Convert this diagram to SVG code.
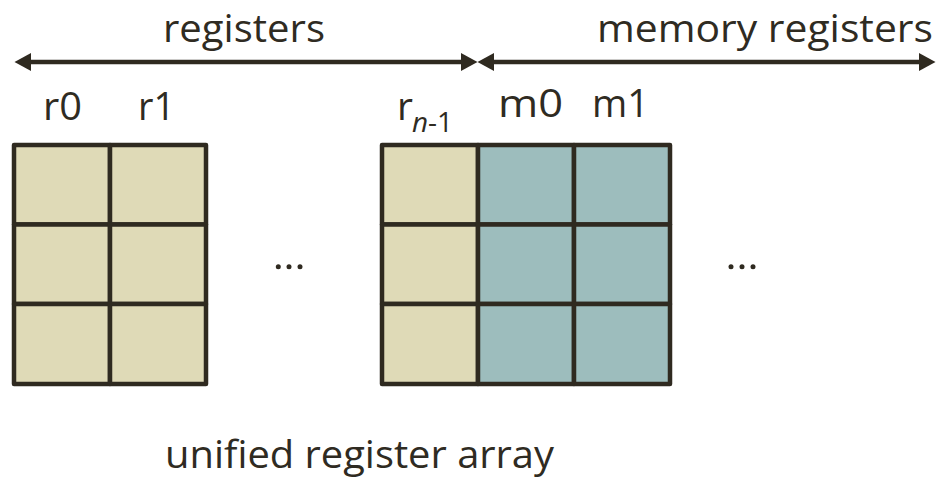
<svg xmlns="http://www.w3.org/2000/svg" width="936" height="479" viewBox="0 0 936 479">
  <defs>
    <style>
      .lbl { font-family: "Open Sans", "Liberation Sans", sans-serif; font-size: 39px; fill: #2f2b22; }
      .sub { font-family: "Open Sans", "Liberation Sans", sans-serif; font-size: 27px; fill: #2f2b22; }
      .reg { fill: #dfdab7; stroke: #2f2a20; stroke-width: 4.5; stroke-linejoin: round; }
      .mem { fill: #9dbdbd; stroke: #2f2a20; stroke-width: 4.5; stroke-linejoin: round; }
      .span { stroke: #2f2a20; stroke-width: 4.5; fill: none; }
      .dot { fill: #2f2a20; }
    </style>
    <marker id="head" markerUnits="userSpaceOnUse" markerWidth="17" markerHeight="18"
            refX="0" refY="9" orient="auto-start-reverse" overflow="visible">
      <path d="M0,0 L16.5,9 L0,18 Z" fill="#2f2a20"/>
    </marker>
  </defs>

  <rect width="936" height="479" fill="#ffffff"/>

  <!-- span arrows above the array -->
  <g id="connectors">
    <path class="span" d="M31,62 H461" marker-start="url(#head)" marker-end="url(#head)"/>
    <path class="span" d="M494,62 H919" marker-start="url(#head)" marker-end="url(#head)"/>
  </g>

  <g id="span-labels">
    <text class="lbl" x="163" y="42" textLength="162" lengthAdjust="spacingAndGlyphs">registers</text>
    <text class="lbl" x="597" y="42" textLength="336" lengthAdjust="spacingAndGlyphs">memory registers</text>
  </g>

  <!-- register columns -->
  <g id="reg-r0">
    <text class="lbl" x="43" y="120" textLength="39" lengthAdjust="spacingAndGlyphs">r0</text>
    <rect class="reg" x="14" y="145" width="96" height="79.5"/>
    <rect class="reg" x="14" y="224.5" width="96" height="79.5"/>
    <rect class="reg" x="14" y="304" width="96" height="80"/>
  </g>
  <g id="reg-r1">
    <text class="lbl" x="138" y="120" textLength="37" lengthAdjust="spacingAndGlyphs">r1</text>
    <rect class="reg" x="110" y="145" width="96" height="79.5"/>
    <rect class="reg" x="110" y="224.5" width="96" height="79.5"/>
    <rect class="reg" x="110" y="304" width="96" height="80"/>
  </g>
  <g id="gap-regs">
    <circle class="dot" cx="278.3" cy="266.7" r="2.5"/>
    <circle class="dot" cx="289" cy="266.7" r="2.5"/>
    <circle class="dot" cx="300" cy="266.7" r="2.5"/>
  </g>
  <g id="reg-rn1">
    <text class="lbl" x="397" y="120">r</text>
    <text class="sub" x="412" y="132" textLength="41" lengthAdjust="spacingAndGlyphs"><tspan font-style="italic">n</tspan>-1</text>
    <rect class="reg" x="382" y="145" width="96" height="79.5"/>
    <rect class="reg" x="382" y="224.5" width="96" height="79.5"/>
    <rect class="reg" x="382" y="304" width="96" height="80"/>
  </g>

  <!-- memory register columns -->
  <g id="mem-m0">
    <text class="lbl" x="498" y="117" textLength="65" lengthAdjust="spacingAndGlyphs">m0</text>
    <rect class="mem" x="478" y="145" width="96" height="79.5"/>
    <rect class="mem" x="478" y="224.5" width="96" height="79.5"/>
    <rect class="mem" x="478" y="304" width="96" height="80"/>
  </g>
  <g id="mem-m1">
    <text class="lbl" x="592" y="117" textLength="57" lengthAdjust="spacingAndGlyphs">m1</text>
    <rect class="mem" x="574" y="145" width="96" height="79.5"/>
    <rect class="mem" x="574" y="224.5" width="96" height="79.5"/>
    <rect class="mem" x="574" y="304" width="96" height="80"/>
  </g>
  <g id="gap-mems">
    <circle class="dot" cx="731" cy="266.7" r="2.5"/>
    <circle class="dot" cx="742" cy="266.7" r="2.5"/>
    <circle class="dot" cx="753" cy="266.7" r="2.5"/>
  </g>

  <g id="caption">
    <text class="lbl" x="165" y="468" textLength="389" lengthAdjust="spacingAndGlyphs">unified register array</text>
  </g>
</svg>
